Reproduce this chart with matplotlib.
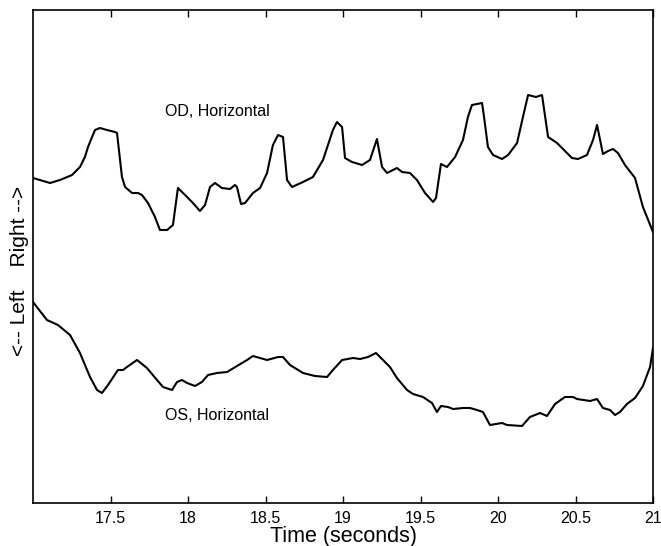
import matplotlib
matplotlib.use("Agg")
import matplotlib.pyplot as plt

plt.rcParams['font.family'] = ['Liberation Sans', 'DejaVu Sans']

# OD (right eye) horizontal position, arbitrary units
od_t = [17.000, 17.110, 17.174, 17.252, 17.303, 17.335, 17.355, 17.381, 17.400, 17.432, 17.477, 17.529,
        17.542, 17.574, 17.594, 17.639, 17.677, 17.703, 17.742, 17.787, 17.819, 17.865,
        17.903, 17.935, 17.968, 18.026, 18.077, 18.110, 18.142, 18.174, 18.219, 18.271,
        18.303, 18.316, 18.342, 18.368, 18.419, 18.465, 18.510, 18.548, 18.581, 18.613,
        18.639, 18.671, 18.742, 18.806, 18.871, 18.935, 18.961, 18.994, 19.013, 19.058,
        19.123, 19.174, 19.219, 19.252, 19.284, 19.348, 19.381, 19.432, 19.477, 19.529,
        19.581, 19.600, 19.632, 19.671, 19.723, 19.774, 19.806, 19.832, 19.897, 19.910,
        19.935, 19.968, 20.026, 20.065, 20.123, 20.161, 20.194, 20.245, 20.284, 20.323,
        20.381, 20.413, 20.477, 20.516, 20.574, 20.613, 20.639, 20.677, 20.710, 20.742,
        20.774, 20.819, 20.884, 20.935, 21.000]
od_y = [32.5, 32.0, 32.3, 32.8, 33.6, 34.6, 35.6, 36.6, 37.3, 37.5, 37.3, 37.1,
        37.0, 32.6, 31.6, 31.0, 31.0, 30.8, 30.0, 28.6, 27.3, 27.3,
        27.8, 31.5, 31.0, 30.1, 29.2, 29.8, 31.6, 32.0, 31.5, 31.4,
        31.8, 31.6, 29.9, 30.0, 31.0, 31.5, 33.0, 35.8, 36.8, 36.6,
        32.3, 31.6, 32.1, 32.6, 34.3, 37.3, 38.1, 37.6, 34.5, 34.1,
        33.8, 34.3, 36.4, 33.6, 33.0, 33.5, 33.1, 33.0, 32.3, 31.0,
        30.1, 30.5, 33.9, 33.6, 34.6, 36.3, 38.6, 39.8, 40.0, 38.6,
        35.6, 34.8, 34.4, 34.8, 36.0, 38.6, 40.8, 40.6, 40.8, 36.6,
        36.0, 35.5, 34.5, 34.4, 34.8, 36.3, 37.8, 34.9, 35.2, 35.4,
        35.0, 33.8, 32.5, 29.6, 27.1]

# OS (left eye) horizontal position, arbitrary units
os_t = [17.000, 17.090, 17.161, 17.239, 17.303, 17.368, 17.413, 17.445, 17.484, 17.548,
        17.581, 17.606, 17.671, 17.735, 17.800, 17.839, 17.897, 17.929, 17.961, 17.994,
        18.045, 18.090, 18.129, 18.187, 18.252, 18.316, 18.381, 18.419, 18.510, 18.581,
        18.613, 18.658, 18.742, 18.819, 18.897, 18.935, 18.994, 19.065, 19.110, 19.161,
        19.213, 19.258, 19.303, 19.348, 19.413, 19.452, 19.516, 19.574, 19.606, 19.632,
        19.677, 19.710, 19.774, 19.819, 19.865, 19.903, 19.948, 20.026, 20.058, 20.155,
        20.206, 20.271, 20.316, 20.368, 20.432, 20.484, 20.510, 20.594, 20.639, 20.677,
        20.723, 20.755, 20.787, 20.832, 20.884, 20.935, 20.981, 21.000]
os_y = [20.1, 18.3, 17.8, 16.8, 15.0, 12.6, 11.3, 11.0, 11.8, 13.3,
        13.3, 13.6, 14.3, 13.5, 12.3, 11.6, 11.3, 12.1, 12.3, 12.0,
        11.7, 12.1, 12.8, 13.0, 13.1, 13.7, 14.3, 14.7, 14.3, 14.6,
        14.6, 13.8, 13.0, 12.7, 12.6, 13.3, 14.3, 14.5, 14.4, 14.6,
        15.0, 14.3, 13.6, 12.5, 11.3, 10.9, 10.6, 10.0, 9.1, 9.7,
        9.6, 9.4, 9.5, 9.5, 9.3, 9.1, 7.8, 8.0, 7.8, 7.7,
        8.6, 9.0, 8.7, 9.9, 10.6, 10.6, 10.4, 10.2, 10.4, 9.5,
        9.3, 8.8, 9.1, 9.9, 10.5, 11.7, 13.6, 15.5]

xticks = [17.5, 18, 18.5, 19, 19.5, 20, 20.5, 21]
xticklabels = ["17.5", "18", "18.5", "19", "19.5", "20", "20.5", "21"]

fig = plt.figure(figsize=(6.61, 5.46), dpi=100)
ax = fig.add_axes([33/661, 43/546, 620/661, 493/546])

ax.plot(od_t, od_y, color='black', lw=1.5, solid_joinstyle='round')
ax.plot(os_t, os_y, color='black', lw=1.5, solid_joinstyle='round')

ax.set_xlim(17.0, 21.0)
ax.set_ylim(0, 49.3)
ax.set_xticks(xticks)
ax.set_xticklabels(xticklabels, fontsize=11.5)
ax.set_yticks([])
ax.tick_params(axis='x', direction='in', top=True, length=5, width=1, pad=6)
for s in ax.spines.values():
    s.set_linewidth(1.2)

ax.text(18.19, 39.2, "OD, Horizontal", fontsize=11.5, ha='center', va='center')
ax.text(18.19, 8.8, "OS, Horizontal", fontsize=11.5, ha='center', va='center')

ax.set_xlabel("Time (seconds)", fontsize=15.5, labelpad=0)
ax.set_ylabel("<-- Left    Right -->", fontsize=15)
ax.yaxis.set_label_coords(-0.007, 0.47)

fig.savefig("out.png", dpi=100)
